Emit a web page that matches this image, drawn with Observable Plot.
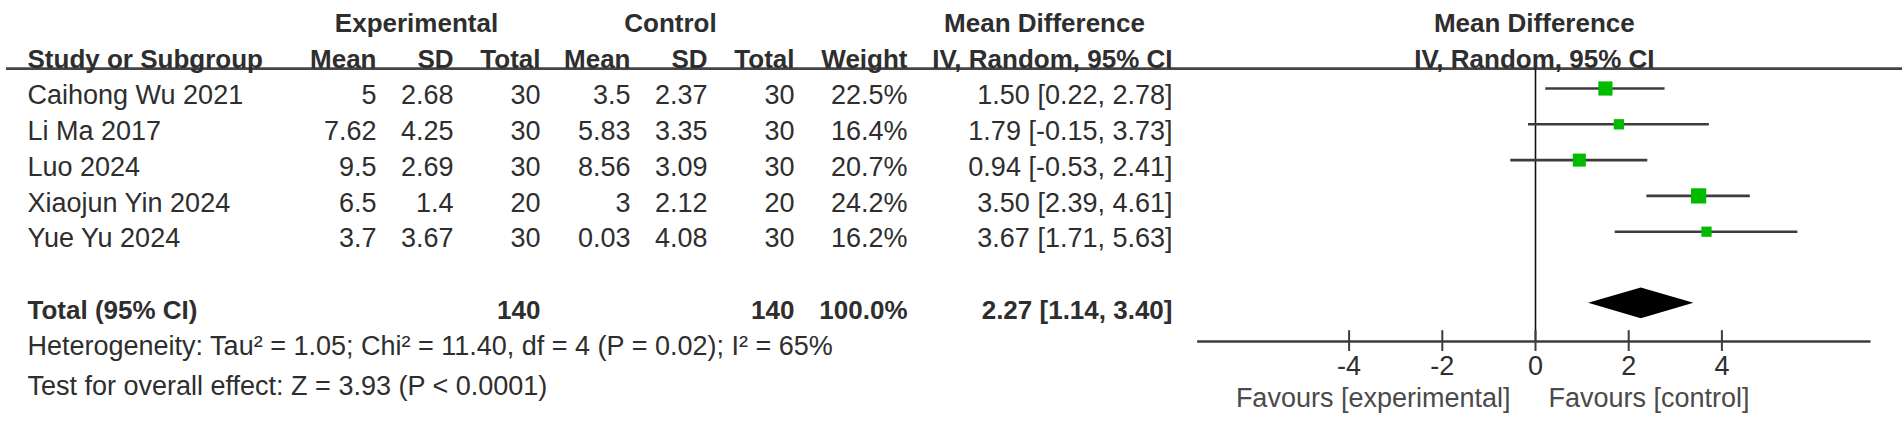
<!DOCTYPE html>
<html>
<head>
<meta charset="utf-8">
<script src="https://cdn.jsdelivr.net/npm/d3@7"></script>
<script src="https://cdn.jsdelivr.net/npm/@observablehq/plot@0.6"></script>
<style>
  html, body { margin: 0; padding: 0; background: #fff; }
  svg { display: block; }
</style>
</head>
<body>
<div id="chart"></div>
<script>
// ---------- data ----------
const studies  = ["Caihong Wu 2021", "Li Ma 2017", "Luo 2024", "Xiaojun Yin 2024", "Yue Yu 2024"];
const expMean  = [5, 7.62, 9.5, 6.5, 3.7];
const expSD    = [2.68, 4.25, 2.69, 1.4, 3.67];
const expN     = [30, 30, 30, 20, 30];
const ctlMean  = [3.5, 5.83, 8.56, 3, 0.03];
const ctlSD    = [2.37, 3.35, 3.09, 2.12, 4.08];
const ctlN     = [30, 30, 30, 20, 30];
const weights  = [22.5, 16.4, 20.7, 24.2, 16.2];
const md       = [1.50, 1.79, 0.94, 3.50, 3.67];
const ciLow    = [0.22, -0.15, -0.53, 2.39, 1.71];
const ciHigh   = [2.78, 3.73, 2.41, 4.61, 5.63];
const totalN   = [140, 140];
const totalWeight = 100.0;
const totalMD  = [2.27, 1.14, 3.40]; // estimate, lower, upper
const axisTicks = [-4, -2, 0, 2, 4];
const heterogeneityText = "Heterogeneity: Tau\u00B2 = 1.05; Chi\u00B2 = 11.40, df = 4 (P = 0.02); I\u00B2 = 65%";
const overallText = "Test for overall effect: Z = 3.93 (P < 0.0001)";
const favoursLeft = "Favours [experimental]";
const favoursRight = "Favours [control]";

// ---------- layout (rows in row units, columns in px) ----------
const ROW = {group: -1, head: 0, line: 0.25, total: 7, het: 8, test: 9.12, axis: 7.87, tickLab: 8.57, favours: 9.46};
const axisExtent = [-7.25, 7.2];
const COL = {study: 27, eMean: 376, eSD: 453, eN: 540, cMean: 630, cSD: 707, cN: 794, weight: 907, ci: 1172,
             expHead: 416, ctlHead: 670, mdHead: 1044};
const FS = 27, FSB = 26, INK = "#2e2e2e";
const fmt2 = v => v.toFixed(2);

const rows = studies.map((s, i) => ({
  study: s, row: i + 1,
  eMean: String(expMean[i]), eSD: String(expSD[i]), eN: String(expN[i]),
  cMean: String(ctlMean[i]), cSD: String(ctlSD[i]), cN: String(ctlN[i]),
  weight: weights[i].toFixed(1) + "%",
  ciText: `${fmt2(md[i])} [${fmt2(ciLow[i])}, ${fmt2(ciHigh[i])}]`,
  md: md[i], lo: ciLow[i], hi: ciHigh[i], w: weights[i]
}));

const colText = (data, key, dx, opts = {}) => Plot.text(data, {
  y: "row", text: key, frameAnchor: "left", dx, textAnchor: "end",
  fontSize: FS, fill: INK, ...opts
});

const headers = [
  {row: ROW.group, t: "Experimental", dx: COL.expHead},
  {row: ROW.group, t: "Control", dx: COL.ctlHead},
  {row: ROW.group, t: "Mean Difference", dx: COL.mdHead}
];
const headers2 = [
  {row: ROW.head, t: "Mean", dx: COL.eMean},
  {row: ROW.head, t: "SD", dx: COL.eSD},
  {row: ROW.head, t: "Total", dx: COL.eN},
  {row: ROW.head, t: "Mean", dx: COL.cMean},
  {row: ROW.head, t: "SD", dx: COL.cSD},
  {row: ROW.head, t: "Total", dx: COL.cN},
  {row: ROW.head, t: "Weight", dx: COL.weight},
  {row: ROW.head, t: "IV, Random, 95% CI", dx: COL.ci}
];
const totalRow = [
  {row: ROW.total, t: String(totalN[0]), dx: COL.eN},
  {row: ROW.total, t: String(totalN[1]), dx: COL.cN},
  {row: ROW.total, t: totalWeight.toFixed(1) + "%", dx: COL.weight},
  {row: ROW.total, t: `${fmt2(totalMD[0])} [${fmt2(totalMD[1])}, ${fmt2(totalMD[2])}]`, dx: COL.ci}
];
const diamondH = 0.43;
const diamond = [
  {x: totalMD[1], y1: ROW.total, y2: ROW.total},
  {x: totalMD[0], y1: ROW.total - diamondH, y2: ROW.total + diamondH},
  {x: totalMD[2], y1: ROW.total, y2: ROW.total}
];
const panelCenter = (axisExtent[0] + axisExtent[1]) / 2;

const W = 1902, H = 422;
const zeroPx = 1535, pxPerUnit = 46.6;
const firstRowPx = 95, rowPx = 35.8;

const chart = Plot.plot({
  width: W, height: H, margin: 0,
  style: {fontFamily: "'Liberation Sans', Arial, sans-serif", fontSize: FS + "px", background: "#fff", overflow: "visible"},
  x: {axis: null, domain: [-zeroPx / pxPerUnit, (W - zeroPx) / pxPerUnit], range: [0, W]},
  y: {axis: null, domain: [1 - firstRowPx / rowPx, 1 - firstRowPx / rowPx + H / rowPx], range: [0, H]},
  r: {type: "linear", domain: [0, d3.max(weights)], range: [0, 8.6]},
  marks: [
    // header rule
    Plot.ruleY([ROW.line], {insetLeft: 6, stroke: "#444", strokeWidth: 2.6}),
    // header texts
    ...headers.map(h => Plot.text([h], {y: "row", text: "t", frameAnchor: "left", dx: h.dx, textAnchor: "middle", fontSize: FSB, fontWeight: "bold", fill: INK})),
    Plot.text(["Study or Subgroup"], {y: () => ROW.head, text: d => d, frameAnchor: "left", dx: COL.study, textAnchor: "start", fontSize: FSB, fontWeight: "bold", fill: INK}),
    ...headers2.map(h => Plot.text([h], {y: "row", text: "t", frameAnchor: "left", dx: h.dx, textAnchor: "end", fontSize: FSB, fontWeight: "bold", fill: INK})),
    Plot.text(["Mean Difference", "IV, Random, 95% CI"], {x: () => panelCenter, y: (d, i) => [ROW.group, ROW.head][i], text: d => d, textAnchor: "middle", fontSize: FSB, fontWeight: "bold", fill: INK}),
    // study rows
    Plot.text(rows, {y: "row", text: "study", frameAnchor: "left", dx: COL.study, textAnchor: "start", fontSize: FS, fill: INK}),
    colText(rows, "eMean", COL.eMean),
    colText(rows, "eSD", COL.eSD),
    colText(rows, "eN", COL.eN),
    colText(rows, "cMean", COL.cMean),
    colText(rows, "cSD", COL.cSD),
    colText(rows, "cN", COL.cN),
    colText(rows, "weight", COL.weight),
    colText(rows, "ciText", COL.ci),
    // total row
    Plot.text(["Total (95% CI)"], {y: () => ROW.total, text: d => d, frameAnchor: "left", dx: COL.study, textAnchor: "start", fontSize: FSB, fontWeight: "bold", fill: INK}),
    ...totalRow.map(h => Plot.text([h], {y: "row", text: "t", frameAnchor: "left", dx: h.dx, textAnchor: "end", fontSize: FSB, fontWeight: "bold", fill: INK})),
    Plot.text([heterogeneityText], {y: () => ROW.het, text: d => d, frameAnchor: "left", dx: COL.study, textAnchor: "start", fontSize: FS, fill: INK}),
    Plot.text([overallText], {y: () => ROW.test, text: d => d, frameAnchor: "left", dx: COL.study, textAnchor: "start", fontSize: FS, fill: INK}),
    // forest: null line
    Plot.ruleX([0], {y1: ROW.line, y2: ROW.axis, stroke: "#111", strokeWidth: 1.6}),
    // CI lines
    Plot.ruleY(rows, {y: "row", x1: "lo", x2: "hi", dy: -7, stroke: "#3c3c3c", strokeWidth: 2.6}),
    // squares
    Plot.dot(rows, {x: "md", y: "row", r: "w", dy: -7, symbol: "square", fill: "#00bb00", stroke: "none"}),
    // diamond
    Plot.areaY(diamond, {x: "x", y1: "y1", y2: "y2", dy: -7, fill: "#000", curve: "linear"}),
    // axis
    Plot.ruleY([ROW.axis], {x1: () => axisExtent[0], x2: () => axisExtent[1], stroke: "#3c3c3c", strokeWidth: 2.6}),
    Plot.ruleX(axisTicks, {y1: ROW.axis - 0.3, y2: ROW.axis + 0.28, stroke: "#3c3c3c", strokeWidth: 2}),
    Plot.text(axisTicks, {x: d => d, y: () => ROW.tickLab, text: d => String(d), textAnchor: "middle", fontSize: FS, fill: INK}),
    Plot.text([favoursLeft], {x: () => 0, y: () => ROW.favours, text: d => d, textAnchor: "end", dx: -25, fontSize: FS, fill: "#4a4a4a"}),
    Plot.text([favoursRight], {x: () => 0, y: () => ROW.favours, text: d => d, textAnchor: "start", dx: 13, fontSize: FS, fill: "#4a4a4a"})
  ]
});
document.getElementById("chart").appendChild(chart);
</script>
</body>
</html>
